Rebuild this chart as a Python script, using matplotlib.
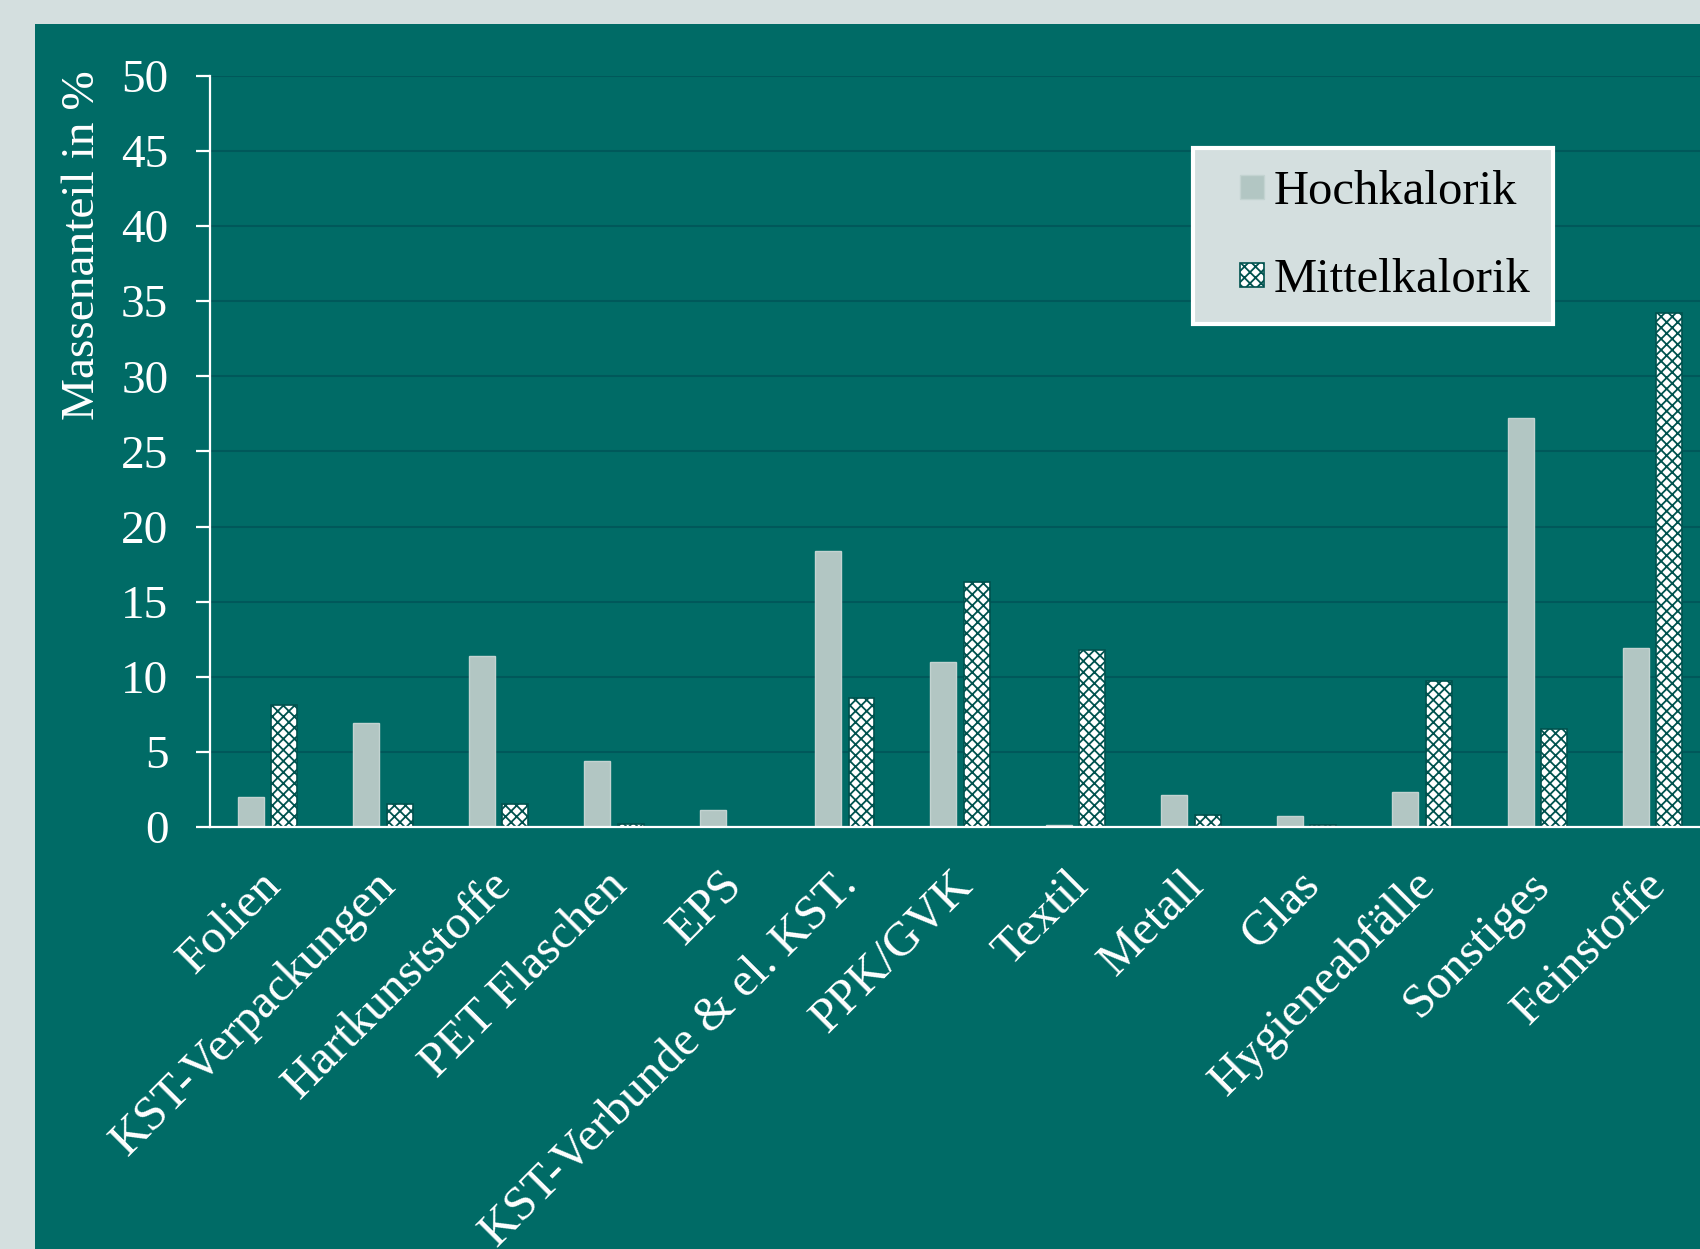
import matplotlib
matplotlib.use("Agg")
import matplotlib.pyplot as plt
import matplotlib.transforms as mtransforms
from matplotlib.patches import Rectangle
from matplotlib.container import BarContainer
from matplotlib.legend_handler import HandlerPatch, update_from_first_child
import numpy as np

# data (Massenanteil in %)
categories = ["Folien", "KST-Verpackungen", "Hartkunststoffe", "PET Flaschen", "EPS",
              "KST-Verbunde & el. KST.", "PPK/GVK", "Textil", "Metall", "Glas",
              "Hygieneabfälle", "Sonstiges", "Feinstoffe"]
hochkalorik = [2.0, 6.9, 11.4, 4.4, 1.1, 18.4, 11.0, 0.1, 2.1, 0.75, 2.35, 27.2, 11.9]
mittelkalorik = [8.1, 1.5, 1.5, 0.2, 0.0, 8.6, 16.3, 11.8, 0.8, 0.1, 9.7, 6.5, 34.2]
yticks = [0, 5, 10, 15, 20, 25, 30, 35, 40, 45, 50]

BG = "#d4dfdf"
TEAL = "#006b66"
GRID = "#00585a"
HOCH = "#b2c6c3"
HATCH_EDGE = "#00524e"

plt.rcParams["font.family"] = ["Liberation Serif", "DejaVu Serif"]
plt.rcParams["hatch.linewidth"] = 1.3


def small_square(legend, orig_handle, xdescent, ydescent, width, height, fontsize):
    # square legend key sitting at the right end of the handle box
    s = 0.5 * fontsize
    return Rectangle((-xdescent + width - s, -ydescent + (height - s) / 2), s, s)


fig = plt.figure(figsize=(17, 12.49), dpi=100, facecolor=BG)
# dark teal panel behind the chart
fig.patches.append(Rectangle((35 / 1700, 0), 1, 1 - 24 / 1249, transform=fig.transFigure,
                             facecolor=TEAL, edgecolor="none", zorder=-10))

ax = fig.add_axes([210 / 1700, 0.3379, 1 - 210 / 1700, 0.6013])
ax.set_facecolor("none")
ax.set_zorder(1)

x = np.arange(len(categories))
w = 0.225
ax.bar(x - 0.145, hochkalorik, w, color=HOCH, edgecolor="#c3d3d1", linewidth=1,
       label="Hochkalorik", zorder=3)
ax.bar(x + 0.145, mittelkalorik, w, color="white", edgecolor=HATCH_EDGE, hatch="xxx",
       linewidth=1.2, label="Mittelkalorik", zorder=3)

ax.set_xlim(-0.5, 12.41)
ax.set_ylim(0, 50)
ax.set_yticks(yticks)
ax.yaxis.grid(True, color=GRID, linewidth=1.5, zorder=1)
ax.set_axisbelow(True)

for s in ["top", "right"]:
    ax.spines[s].set_visible(False)
for s in ["left", "bottom"]:
    ax.spines[s].set_color("white")
    ax.spines[s].set_linewidth(1.6)
    ax.spines[s].set_zorder(4)

ax.tick_params(axis="y", colors="white", length=10, width=1.6, pad=20, labelsize=34)
ax.tick_params(axis="x", length=0, colors="white", labelsize=35, pad=37)
ax.set_xticks(x)
ax.set_xticklabels(categories, rotation=45, ha="right", va="center", rotation_mode="anchor")
shift = mtransforms.ScaledTranslation(6 / 100, 0, fig.dpi_scale_trans)
for lab in ax.get_xticklabels():
    lab.set_transform(lab.get_transform() + shift)

fig.text(83 / 1700, 1 - 245 / 1249, "Massenanteil in %", rotation=90, ha="center",
         va="center", color="white", fontsize=34)

key = HandlerPatch(patch_func=small_square, update_func=update_from_first_child)
leg = ax.legend(loc="upper left", bbox_to_anchor=(0.660, 0.904), fontsize=35,
                frameon=True, fancybox=False, borderpad=0.45, labelspacing=0.9,
                borderaxespad=0, handlelength=1.01, handleheight=0.7, handletextpad=0.2,
                handler_map={BarContainer: key})
leg.get_frame().set_facecolor(BG)
leg.get_frame().set_edgecolor("white")
leg.get_frame().set_linewidth(3)
leg.get_frame().set_alpha(1)
for t in leg.get_texts():
    t.set_color("black")

plt.savefig("out.png", dpi=100, facecolor=BG)
